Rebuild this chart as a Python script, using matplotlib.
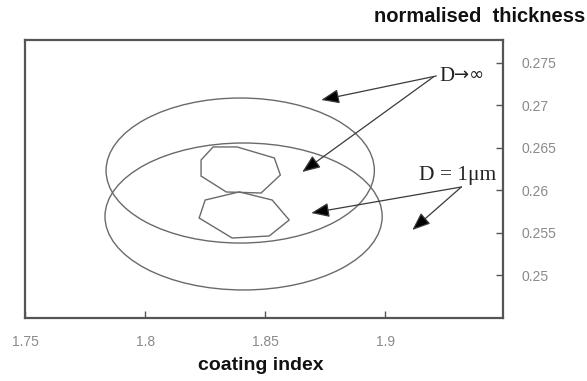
import matplotlib
matplotlib.use("Agg")
import matplotlib.pyplot as plt
from matplotlib.patches import Ellipse, Polygon

# ---- data ----
x_ticks = [1.75, 1.80, 1.85, 1.90]
x_tick_labels = ["1.75", "1.8", "1.85", "1.9"]
y_ticks = [0.25, 0.255, 0.26, 0.265, 0.27, 0.275]
y_tick_labels = ["0.25", "0.255", "0.26", "0.265", "0.27", "0.275"]

# large contours (centre x, centre y, width, height)
ellipse_inf = (1.8396, 0.26232, 0.1117, 0.0171)   # D -> infinity
ellipse_1um = (1.8410, 0.25690, 0.1154, 0.01733)  # D = 1 um

# small contours (polygon vertices)
hex_upper_x = [1.8283, 1.8233, 1.8233, 1.8338, 1.8483, 1.8563, 1.8538, 1.8383]
hex_upper_y = [0.2651, 0.26356, 0.26167, 0.25979, 0.25967, 0.26179, 0.2638, 0.2651]
hex_lower_x = [1.8250, 1.8225, 1.83625, 1.85167, 1.8600, 1.8529, 1.8392]
hex_lower_y = [0.25884, 0.25672, 0.25436, 0.2546, 0.25649, 0.25884, 0.2598]

# annotation arrows: (start, tip)
arrows_inf = [((1.92125, 0.27347), (1.87333, 0.27064)),
              ((1.92000, 0.27335), (1.86542, 0.26215))]
arrows_1um = [((1.93167, 0.26038), (1.86917, 0.25731)),
              ((1.93167, 0.26038), (1.91125, 0.25531))]
label_inf_pos = (1.9225, 0.27335)
label_1um_pos = (1.9142, 0.26179)

# ---- figure ----
fig = plt.figure(figsize=(5.87, 3.81), dpi=100)
ax = fig.add_axes([25/587, (381-318)/381, (503-25)/587, (318-39.5)/381])
ax.set_xlim(1.75, 1.949)
ax.set_ylim(0.24493, 0.27777)

line_col = "#6a6a6a"
for (cx, cy, w, h) in (ellipse_inf, ellipse_1um):
    ax.add_patch(Ellipse((cx, cy), w, h, fill=False, ec=line_col, lw=1.0))
ax.add_patch(Polygon(list(zip(hex_upper_x, hex_upper_y)), closed=True,
                     fill=False, ec=line_col, lw=1.0))
ax.add_patch(Polygon(list(zip(hex_lower_x, hex_lower_y)), closed=True,
                     fill=False, ec=line_col, lw=1.0))

astyle = "-|>,head_length=0.55,head_width=0.22"
for start, tip in arrows_inf + arrows_1um:
    ax.annotate("", xy=tip, xytext=start, xycoords="data", textcoords="data",
                arrowprops=dict(arrowstyle=astyle, mutation_scale=20,
                                color="#3a3a3a", lw=0.9, fc="black",
                                shrinkA=0, shrinkB=0))

serif = ["Liberation Serif", "DejaVu Serif"]
ax.text(label_inf_pos[0], label_inf_pos[1], "D", family=serif, fontsize=15,
        ha="left", va="center", color="#222222")
ax.annotate("\u2192\u221e", xy=label_inf_pos, xycoords="data",
            xytext=(15, 2), textcoords="offset pixels",
            family="DejaVu Sans", fontsize=13, ha="left", va="center",
            color="#222222")
ax.text(label_1um_pos[0], label_1um_pos[1], "D = 1\u03bcm", family=serif,
        fontsize=15.5, ha="left", va="center", color="#222222")

# axes styling
for s in ax.spines.values():
    s.set_color("#555555")
    s.set_linewidth(1.6)
ax.yaxis.tick_right()
ax.set_xticks(x_ticks)
ax.set_xticklabels(x_tick_labels)
ax.set_yticks(y_ticks)
ax.set_yticklabels(y_tick_labels)
ax.tick_params(axis="x", direction="in", length=5, width=1, color="#555555",
               pad=12, labelsize=10, labelcolor="#8a8a8a")
ax.tick_params(axis="y", direction="in", length=5, width=1, color="#555555",
               pad=13, labelsize=10, labelcolor="#8a8a8a", right=True, left=False)
for lab in ax.get_xticklabels() + ax.get_yticklabels():
    lab.set_family("Liberation Sans")

fig.text(585/587, 1 - 17/381, "normalised  thickness", ha="right", va="center",
         family="Liberation Sans", fontweight="bold", fontsize=14.5, color="#111111")
fig.text(261/587, 1 - 365/381, "coating index", ha="center", va="center",
         family="Liberation Sans", fontweight="bold", fontsize=14, color="#111111")

fig.savefig("out.png", dpi=100, facecolor="white")
